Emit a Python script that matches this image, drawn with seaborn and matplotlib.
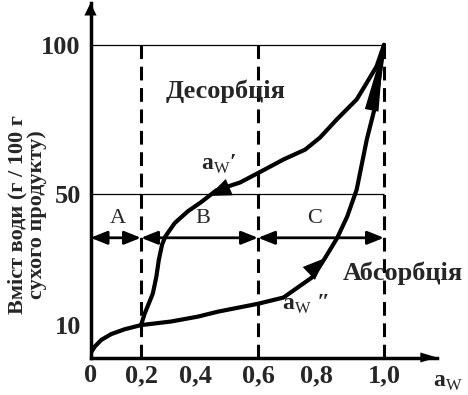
import numpy as np
import matplotlib
matplotlib.use("Agg")
import matplotlib.pyplot as plt
import seaborn as sns

# Дані
x_ticks = [0, 0.2, 0.4, 0.6, 0.8, 1.0]
x_labels = ["0", "0,2", "0,4", "0,6", "0,8", "1,0"]
y_ticks = [10, 50, 100]
y_labels = ["10", "50", "100"]
zone_bounds = [0, 0.2, 0.6, 1.0]
zone_names = ["A", "B", "C"]

# Абсорбція (нижня крива, a_w'')
absorb_x = [0.0, 0.017, 0.043, 0.082, 0.135, 0.2, 0.312, 0.410, 0.473, 0.6,
            0.687, 0.789, 0.825, 0.861, 0.891, 0.919, 0.949, 0.974, 1.0]
absorb_y = [1.3, 3.4, 5.5, 7.3, 8.8, 10.1, 11.2, 12.7, 14.2, 16.6,
            18.5, 24.9, 30.5, 36.6, 43.2, 51.5, 68.3, 79.5, 100.0]

# Десорбція (верхня крива, a_w')
desorb_x = [1.0, 0.978, 0.949, 0.919, 0.860, 0.810, 0.761, 0.687, 0.601, 0.543,
            0.468, 0.420, 0.374, 0.325, 0.290, 0.278, 0.266, 0.257, 0.244,
            0.232, 0.214, 0.2]
desorb_y = [100, 92.8, 87.3, 81.7, 75.0, 68.9, 64.9, 61.6, 57.1, 53.9,
            51.3, 47.6, 44.8, 41.2, 37.1, 34.6, 30.0, 24.9, 19.8,
            17.3, 13.7, 10.1]

# Нелінійні шкали, як на схемі
sx_in = [0, 0.2, 0.4, 0.6, 0.8, 1.0, 1.2]
sx_out = [0, 50.5, 104.5, 167.5, 226, 293.5, 361]
sy_in = [0, 10, 50, 100, 120]
sy_out = [0, 32, 163, 312, 371.6]


def fx(v):
    return np.interp(v, sx_in, sx_out)


def fx_inv(v):
    return np.interp(v, sx_out, sx_in)


def fy(v):
    return np.interp(v, sy_in, sy_out)


def fy_inv(v):
    return np.interp(v, sy_out, sy_in)


sns.set_style("white")
plt.rcParams["font.family"] = ["Liberation Serif", "DejaVu Serif"]
plt.rcParams["mathtext.fontset"] = "custom"
plt.rcParams["mathtext.rm"] = "Liberation Serif"
plt.rcParams["mathtext.bf"] = "Liberation Serif:bold"

W, H = 468, 395
fig = plt.figure(figsize=(W / 100, H / 100), dpi=100)
ax = fig.add_axes([90.5 / W, 1 - 357.5 / H, 346.5 / W, 354.5 / H])
ax.set_xscale("function", functions=(fx, fx_inv))
ax.set_yscale("function", functions=(fy, fy_inv))
ax.set_xlim(0, 1.157)
ax.set_ylim(0, 114)


def fpos(px, py):
    return px / W, 1 - py / H


# сітка та пунктир
ax.hlines([50, 100], 0, 1.0, colors="k", lw=0.9)
ax.vlines(zone_bounds[1:], 0, 100, colors="k", lw=2.2,
          linestyles=(0, (4.5, 2.5)))

# криві
sns.lineplot(x=absorb_x, y=absorb_y, sort=False, estimator=None,
             color="k", lw=3, ax=ax)
sns.lineplot(x=desorb_x, y=desorb_y, sort=False, estimator=None,
             color="k", lw=3, ax=ax)

# стрілки на кривих
head = dict(lw=0, fc="k", ec="k", shrinkA=0, shrinkB=0, mutation_scale=20)
mid = ((desorb_x[10] + desorb_x[11]) / 2, (desorb_y[10] + desorb_y[11]) / 2)
ax.annotate("", xy=mid, xytext=(desorb_x[9], desorb_y[9]),
            arrowprops=dict(arrowstyle="-|>,head_length=0.8,head_width=0.32", **head))
ax.annotate("", xy=(absorb_x[12], absorb_y[12]), xytext=(absorb_x[10], absorb_y[10]),
            arrowprops=dict(arrowstyle="-|>,head_length=0.8,head_width=0.32", **head))
ax.annotate("", xy=(absorb_x[-1], absorb_y[-1]), xytext=(absorb_x[-4], absorb_y[-4]),
            arrowprops=dict(arrowstyle="-|>,head_length=2.4,head_width=0.25", **head))

# зони A, B, C
for i, name in enumerate(zone_names):
    ax.annotate("", xy=(zone_bounds[i], 36.7), xytext=(zone_bounds[i + 1], 36.7),
                arrowprops=dict(arrowstyle="<|-|>,head_length=0.5,head_width=0.2",
                                lw=2, color="k", shrinkA=0, shrinkB=0,
                                mutation_scale=20))
fig.text(*fpos(118, 219), zone_names[0], fontsize=16, ha="center", va="center")
fig.text(*fpos(203, 219), zone_names[1], fontsize=16, ha="center", va="center")
fig.text(*fpos(315, 219), zone_names[2], fontsize=16, ha="center", va="center")

# осі зі стрілками
for s in ["top", "right"]:
    ax.spines[s].set_visible(False)
for s in ["left", "bottom"]:
    ax.spines[s].set_linewidth(2.5)
    ax.spines[s].set_color("k")
ax.annotate("", xy=(1, 0), xytext=(0.9, 0), xycoords="axes fraction",
            arrowprops=dict(arrowstyle="-|>,head_length=0.6,head_width=0.18", **head))
ax.annotate("", xy=(0, 1), xytext=(0, 0.9), xycoords="axes fraction",
            arrowprops=dict(arrowstyle="-|>,head_length=0.45,head_width=0.22", **head))

ax.set_xticks(x_ticks, labels=x_labels, fontsize=19, fontweight="bold")
ax.set_yticks(y_ticks, labels=y_labels, fontsize=19, fontweight="bold")
ax.minorticks_off()
ax.tick_params(axis="x", direction="in", length=7, width=2, pad=5)
ax.tick_params(axis="y", direction="out", length=5, width=2, pad=2)

# підписи
fig.text(*fpos(226, 91), "Десорбція", fontsize=19, fontweight="bold",
         ha="center", va="center")
fig.text(*fpos(403, 273), "Абсорбція", fontsize=19, fontweight="bold",
         ha="center", va="center")
fig.text(*fpos(201, 170), r"$\mathbf{a}_{\mathrm{W}}$′", fontsize=17,
         fontweight="bold", ha="left", va="baseline")
fig.text(*fpos(282, 310), r"$\mathbf{a}_{\mathrm{W}}$ ″", fontsize=17,
         fontweight="bold", ha="left", va="baseline")
fig.text(*fpos(433, 387), r"$\mathbf{a}_{\mathrm{W}}$", fontsize=17,
         ha="left", va="baseline")
fig.text(*fpos(27, 215), "Вміст води (г / 100 г\nсухого продукту)", fontsize=16,
         fontweight="bold", rotation=90, ha="center", va="center",
         multialignment="center", linespacing=1.0)

fig.savefig("out.png", dpi=100)
